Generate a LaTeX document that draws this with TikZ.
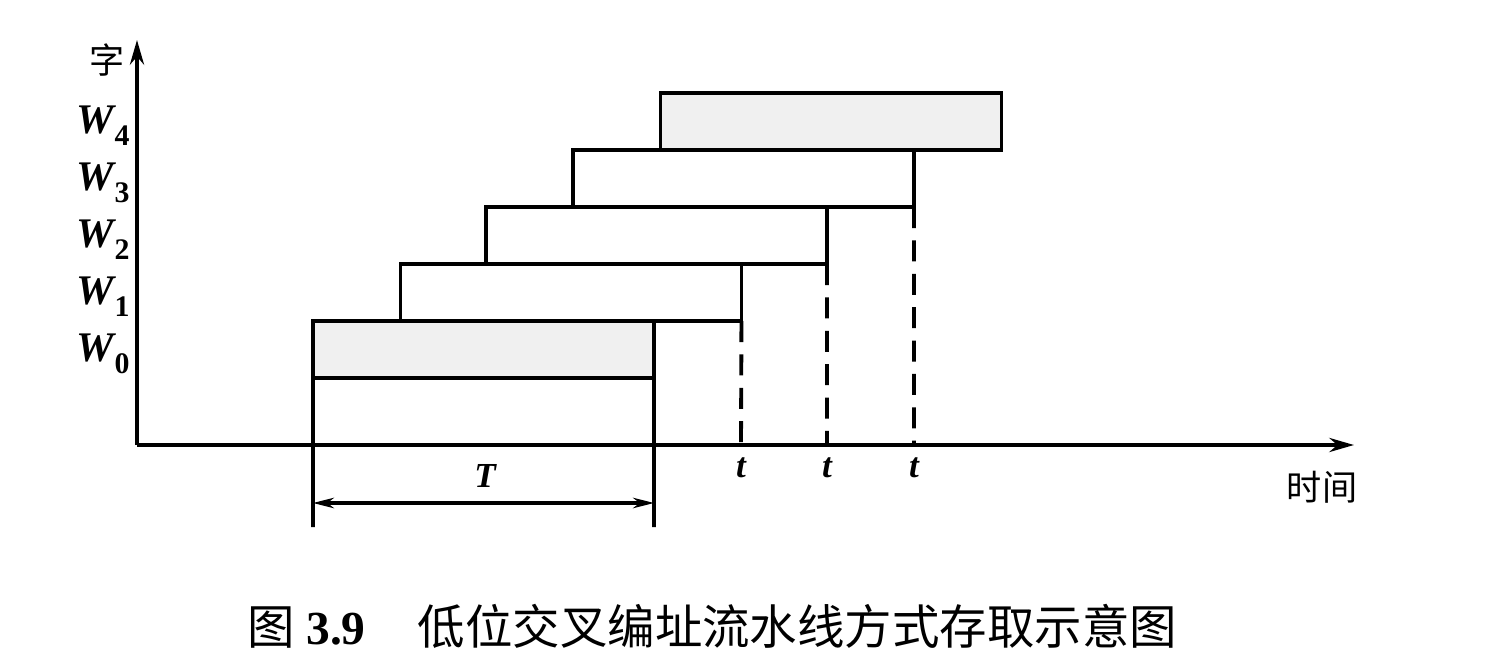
\documentclass[tikz,border=0pt]{standalone}
\usepackage{fontspec}
\setmainfont{Liberation Serif}
\newfontfamily\cjk{Noto Sans CJK SC}
\usetikzlibrary{arrows.meta}
\newcommand{\wsub}[1]{W\kern0.5pt\raisebox{-0.28em}{\upshape\fontsize{17}{17}\selectfont #1}}
\tikzset{
  ln/.style={line width=2.2pt},
  wbox/.style={draw, line width=2.2pt, rectangle, inner sep=0pt, outer sep=0pt,
    minimum width=6.82cm, minimum height=1.14cm, fill=white},
  shaded/.style={fill=gray!12},
  dashv/.style={line width=2.2pt, dash pattern=on 12pt off 7pt},
  wlab/.style={font=\fontsize{24}{28}\selectfont\bfseries\itshape, inner sep=0pt},
  tlab/.style={font=\fontsize{20}{24}\selectfont\bfseries\itshape, inner sep=0pt},
  cjklab/.style={font=\cjk\fontsize{20}{24}\selectfont, inner sep=0pt},
}
\begin{document}
\begin{tikzpicture}[x=0.02cm, y=-0.02cm]
\useasboundingbox (0,0) rectangle (1492,662);
% axes
\coordinate (O) at (137,445);
\coordinate (ytop) at (137,40);
\coordinate (xend) at (1354,445);
\draw[ln, -{Stealth[length=14pt,width=8pt]}] (O) -- (ytop);
\draw[ln, -{Stealth[length=14pt,width=8pt]}] (O) -- (xend);
% boxes
\node[wbox, shaded] (w0) at (483.5,349.5) {};
\node[wbox] (w1) at (571,292.5) {};
\node[wbox] (w2) at (656.5,235.5) {};
\node[wbox] (w3) at (743.5,178.5) {};
\node[wbox, shaded] (w4) at (831,121.5) {};
% vertical lines below W0
\coordinate (l0) at (313,527);
\coordinate (r0) at (654,527);
\draw[ln] (w0.south west) -- (l0);
\draw[ln] (w0.south east) -- (r0);
% dashed lines
\coordinate (t1) at (741,445);
\coordinate (t2) at (827,445);
\coordinate (t3) at (914,445);
\draw[dashv] (w1.south east) -- (t1);
\draw[dashv] (w2.south east) -- (t2);
\draw[dashv] (w3.south east) -- (t3);
% T arrow
\coordinate (ta) at (313,503);
\coordinate (tb) at (654,503);
\draw[line width=1.8pt, {Stealth[length=12pt,width=6pt]}-{Stealth[length=12pt,width=6pt]}] (ta) -- (tb);
\node[tlab] (T) at (485,476) {T};
% t labels
\node[tlab] (lt1) at (741,468) {t};
\node[tlab] (lt2) at (827,468) {t};
\node[tlab] (lt3) at (914,468) {t};
% W labels
\node[wlab] (lw4) at (103,126) {\wsub{4}};
\node[wlab] (lw3) at (103,183) {\wsub{3}};
\node[wlab] (lw2) at (103,240) {\wsub{2}};
\node[wlab] (lw1) at (103,297) {\wsub{1}};
\node[wlab] (lw0) at (103,354) {\wsub{0}};
% axis labels
\node[cjklab] (zi) at (107,60) {字};
\node[cjklab] (shijian) at (1322,487) {时间};
% caption
\node[inner sep=0pt, font=\fontsize{27}{32}\selectfont] (cap) at (712,626)
  {{\cjk 图} \textbf{3.9}\hspace{1.1em}{\cjk 低位交叉编址流水线方式存取示意图}};
\end{tikzpicture}
\end{document}
